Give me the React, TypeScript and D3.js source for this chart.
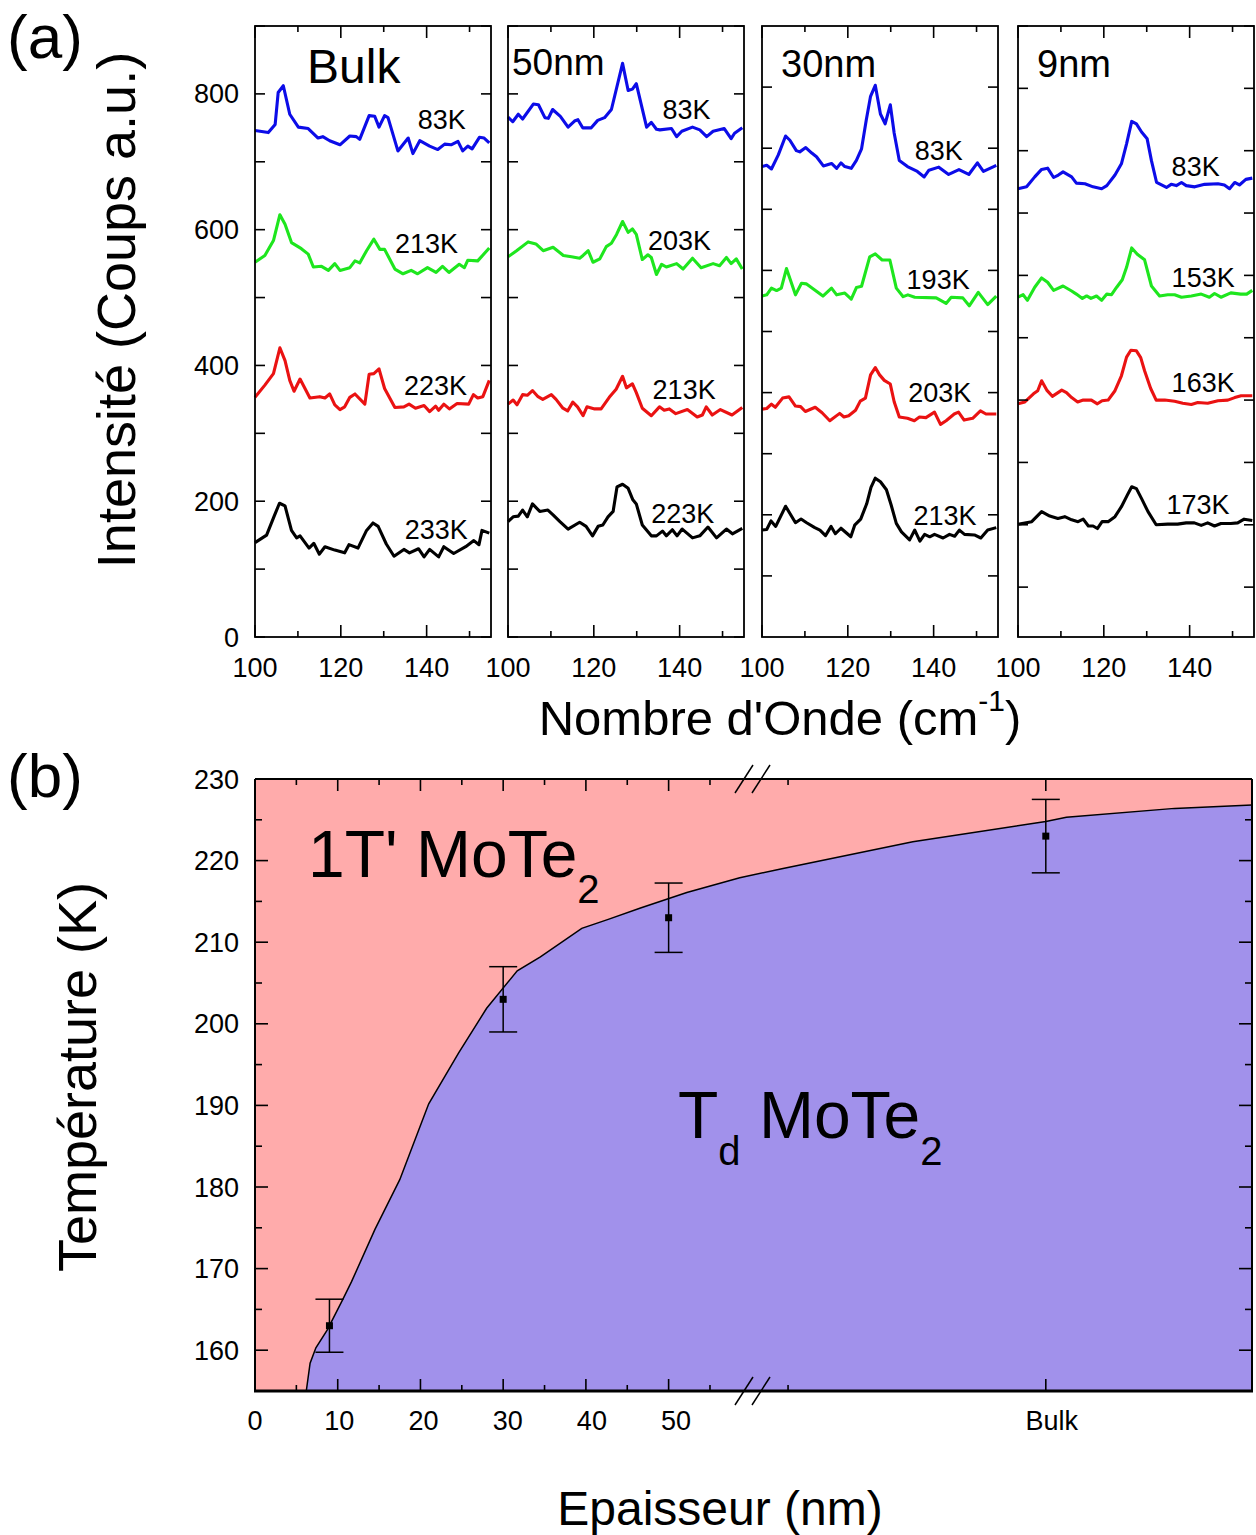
import React from 'react';
import * as d3 from 'd3';

const FONT = "'Liberation Sans', Arial, Helvetica, sans-serif";

type Pt = [number, number];

// ---------- Panel (a) spectra: [wavenumber cm-1, intensity] ----------
const bulk83K: Pt[] = [[100,746],[103.1,743],[104.7,755],[105.4,802],[106.6,812],[108.1,770],[110.1,751],[112.4,749],[114.7,735],[115.8,737],[117.4,731],[119.8,725],[122.1,738],[123.6,737],[124.4,733],[126.6,768],[127.9,767],[128.9,751],[130.2,768],[131.0,765],[133.3,716],[135.7,735],[136.8,712],[138.4,731],[140.7,723],[142.6,718],[144.2,726],[145.7,725],[147.3,730],[148.4,716],[149.6,723],[150.6,719],[152.3,736],[153.4,735],[154.6,728]];
const bulk213K: Pt[] = [[100,552],[102.3,562],[104.3,584],[105.8,622],[107,608],[108.5,581],[110.8,572],[112.4,564],[113.6,545],[115.5,546],[117.1,540],[118.6,550],[119.8,540],[122.1,544],[123.3,554],[124.4,551],[126,569],[127.7,586],[129.1,571],[130.2,571],[132.6,542],[134.5,535],[136.4,540],[137.9,535],[140.2,544],[142.2,537],[143.7,546],[145.2,537],[147.6,549],[148.8,544],[149.6,555],[151.9,554],[154.6,573]];
const bulk223K: Pt[] = [[100,353],[102.3,371],[104.3,388],[105.8,426],[107,407],[108.1,378],[109.1,362],[110.5,380],[112.8,352],[115.1,354],[116.3,352],[117.4,358],[118.6,342],[119.8,335],[120.9,339],[122.1,353],[123.3,358],[125.6,343],[126.6,387],[127.7,388],[128.9,395],[130.2,366],[132.6,338],[134.7,339],[135.9,343],[137.4,337],[139.4,341],[140.7,332],[142.1,340],[142.8,334],[144.0,343],[145.3,336],[147.1,344],[149.8,343],[150.9,357],[151.9,352],[153.1,354],[154.6,378]];
const bulk233K: Pt[] = [[100,139],[102.7,150],[104.4,177],[105.7,197],[107,193],[108.5,157],[109.7,146],[110.5,149],[112.6,131],[113.7,138],[115,122],[116.3,133],[118.6,128],[120.9,124],[121.9,136],[124,131],[126,157],[127.5,168],[128.7,163],[130.6,137],[132.4,119],[134.7,129],[136,124],[138.1,130],[139.4,118],[140.7,129],[142.8,118],[144,133],[146.3,123],[149.1,133],[151,142],[152.2,136],[152.9,157],[154.6,153]];

const nm50_83K: Pt[] = [[100,766],[101.1,759],[102.4,770],[103.4,763],[105.9,785],[107.1,784],[108.6,765],[109.4,764],[110.4,777],[112.2,767],[114,751],[115.5,760],[116.3,762],[117.4,750],[119.4,750],[120.9,761],[122.5,765],[124.1,777],[126.7,845],[128,805],[129,807],[129.9,815],[132.3,751],[133.4,758],[134.6,748],[135.4,747],[138.1,749],[139.3,737],[140.5,745],[143,751],[144.7,747],[146.3,737],[147.8,745],[150.4,749],[152,734],[152.8,742],[154.6,750]];
const nm50_203K: Pt[] = [[100,560],[102,569],[104.7,582],[106.5,579],[108.2,569],[110.5,574],[112.9,562],[114.8,560],[116.7,558],[117.5,562],[118.7,569],[119.8,552],[121.4,557],[122.9,575],[124.1,580],[125.3,593],[126.7,612],[128,596],[129,601],[129.9,593],[131.3,556],[132.6,563],[133.4,559],[134.6,534],[135.8,549],[136.9,545],[139.3,550],[140.8,542],[143,558],[145,544],[147.8,550],[149.3,547],[150.9,559],[152,550],[153.2,557],[154.6,542]];
const nm50_213K: Pt[] = [[100,343],[101.2,349],[102.1,342],[103.4,357],[104.5,356],[105.7,363],[107,354],[108.1,350],[110.1,357],[111.2,350],[112.8,337],[113.9,333],[115.1,346],[116.2,339],[117.5,326],[118.4,339],[120.2,336],[121.7,336],[123.6,353],[125.2,365],[126.7,384],[127.6,367],[129,373],[129.9,360],[131.3,337],[133.4,326],[135.3,339],[136.4,334],[137.6,336],[139.1,329],[141.8,335],[144.1,324],[145.3,327],[146.2,339],[147.6,327],[149.5,335],[152.2,327],[154.6,338]];
const nm50_223K: Pt[] = [[100,170],[101.2,177],[102.4,178],[103.4,187],[104.5,177],[105.7,196],[107.4,185],[109.3,187],[110.5,180],[112.1,170],[114,159],[116.7,169],[118.2,163],[119.7,149],[121,163],[122.1,165],[123.3,177],[124.5,185],[125.4,221],[126.7,225],[128,219],[129.1,202],[129.9,196],[131.3,165],[133.4,149],[134.6,149],[136,156],[136.9,149],[138.3,158],[139.4,149],[140.6,159],[143,146],[144.7,149],[146.6,162],[148.6,146],[150.9,159],[152.3,152],[154.6,160]];

const nm30_83K: Pt[] = [[100,770],[101.1,772],[102.2,766],[103.8,789],[105.5,820],[106.5,813],[108,796],[108.8,794],[110.2,801],[111.6,792],[112.7,786],[114.3,771],[116.2,775],[117.4,767],[118.4,776],[119.3,770],[120.8,767],[122,780],[123.2,799],[124.3,846],[125.3,885],[126.4,903],[127.6,856],[128.7,840],[129.9,871],[130.8,825],[132,780],[133.9,770],[136.2,762],[137.8,753],[138.9,764],[141.2,769],[143.5,757],[145.9,765],[148.2,757],[150.2,776],[151.6,762],[154,770],[154.6,772]];
const nm30_193K: Pt[] = [[100,558],[101.1,560],[102.2,571],[103.4,567],[104.5,571],[105.7,603],[107.8,560],[109.2,579],[110.3,578],[114.2,558],[116.2,571],[117.4,560],[119.3,563],[120.8,553],[122,572],[123.2,574],[125.1,622],[126.4,627],[128,617],[129.8,617],[131.3,571],[132.9,557],[134,560],[135.6,556],[140.6,555],[142.9,546],[144.1,556],[146.8,555],[148.3,542],[150.4,564],[152.6,544],[154.6,558]];
const nm30_203K: Pt[] = [[100,373],[101.1,374],[102.2,381],[103.1,376],[104.8,391],[106.3,393],[107.8,378],[109,377],[110.1,369],[112.4,376],[114,367],[115.8,354],[118.1,366],[119.1,360],[120.2,362],[121.8,371],[122.9,386],[124.1,391],[125.3,429],[126.4,441],[127.4,429],[128.5,420],[129.9,414],[130.8,385],[132,360],[133.9,358],[135.5,354],[136.7,360],[138.2,359],[140.2,368],[141.6,348],[142.9,354],[144.8,365],[145.8,368],[147.1,355],[149.1,358],[150.9,370],[152.2,365],[154.6,365]];
const nm30_213K: Pt[] = [[100,175],[101.1,176],[102.1,190],[103.2,181],[105.5,214],[107.8,187],[109.1,193],[110.4,187],[112.3,179],[113.5,175],[114.8,166],[116.1,181],[117.1,169],[118.4,178],[120.7,164],[121.6,183],[123,193],[124.4,218],[125.4,245],[126.4,260],[127.6,254],[129,241],[130.1,216],[131.3,186],[132.5,172],[134.4,159],[135.6,175],[136.8,157],[137.9,168],[139.1,164],[140.2,168],[142.2,162],[143.7,168],[144.9,165],[146,175],[147.2,168],[149.5,167],[151,162],[152.6,175],[154.6,179]];

const nm9_83K: Pt[] = [[100,639],[102,642],[103.9,658],[105.5,670],[106.9,672],[108.3,657],[109.4,661],[110.5,666],[112.5,658],[113.6,648],[115.6,647],[117.5,642],[119.5,639],[120.7,644],[122.6,661],[124.1,679],[125.3,711],[126.5,747],[127.6,743],[128.8,730],[130.1,719],[131.1,684],[132.3,649],[134.6,641],[135.7,646],[136.9,644],[138.1,649],[139.2,644],[141.2,642],[143.5,646],[146.6,647],[148.1,645],[149.3,639],[150.5,649],[151.6,645],[153.1,654],[154.6,656]];
const nm9_153K: Pt[] = [[100,465],[101.2,469],[102.2,460],[103.9,481],[105.5,496],[106.9,489],[108.3,476],[110.5,483],[112.5,475],[113.6,470],[115,463],[116,467],[117,463],[118.3,467],[119.5,460],[120.7,470],[121.8,469],[123,481],[124.3,493],[125.3,513],[126.5,544],[127.8,534],[129.5,525],[131.1,483],[133,467],[134.9,469],[136.5,469],[138.1,465],[140.4,467],[142.7,470],[144.6,465],[145.8,471],[147.3,465],[149.6,472],[151.9,470],[153.3,470],[154.6,476]];
const nm9_163K: Pt[] = [[100,294],[101.6,297],[103.6,310],[104.6,315],[105.5,331],[106.7,316],[108,306],[110.2,316],[111.3,312],[112.5,304],[113.9,297],[115.2,300],[117.1,300],[118.5,294],[119.6,299],[121,300],[122.6,315],[124.1,339],[125.3,369],[126.3,380],[127.6,379],[128.6,368],[129.5,347],[130.9,319],[132.2,300],[134.2,300],[136.5,298],[138.4,295],[140.4,293],[141.9,296],[144.2,295],[146.6,299],[148.9,300],[150.5,304],[152,307],[154.6,307]];
const nm9_173K: Pt[] = [[100,101],[101.6,103],[103.2,105],[105.5,121],[107.4,114],[109.3,110],[110.9,113],[112.5,108],[114,105],[115.2,109],[116.4,98],[117.5,98],[118.5,94],[119.6,105],[121,105],[122.6,113],[124.1,129],[125.5,148],[126.5,161],[127.6,158],[128.8,142],[130.3,121],[132.2,100],[134.9,101],[137.2,101],[139.2,103],[141.1,103],[142.7,99],[144.2,103],[145.8,98],[147.3,102],[149.6,102],[151.2,103],[152.7,109],[154.6,107]];

// temperature labels and their anchor (wavenumber, intensity)
const bulkLabels = ['83K', '213K', '223K', '233K'];
const bulkLabelAt: Pt[] = [[137.9,748],[132.6,566],[134.7,357],[134.9,145]];
const nm50Labels = ['83K', '203K', '213K', '223K'];
const nm50LabelAt: Pt[] = [[136,763],[132.6,570],[133.7,350],[133.4,168]];
const nm30Labels = ['83K', '193K', '203K', '213K'];
const nm30LabelAt: Pt[] = [[135.6,781],[133.7,570],[134.1,384],[135.3,183]];
const nm9Labels = ['83K', '153K', '163K', '173K'];
const nm9LabelAt: Pt[] = [[135.8,660],[135.8,482],[135.8,313],[134.6,117]];

const panelTitles = ['Bulk', '50nm', '30nm', '9nm'];
const panelYDomains: Pt[] = [[0, 900], [0, 900], [0, 1000], [-80, 900]];
const panelYTicks = [d3.range(0, 901, 100), d3.range(0, 901, 100), d3.range(100, 1000, 100), d3.range(0, 901, 100)];
const intensityTickLabels = [0, 200, 400, 600, 800];
const waveTickMajor = [100, 120, 140];
const waveTickMinor = [110, 130, 150];
const seriesColors = ['#0c0ce8', '#1ee61e', '#ea1212', '#000000'];

// ---------- Panel (b) data ----------
const boundaryThickness = [6.2, 6.66, 7.36, 8.74, 10.6, 11.67, 14.5, 17.5, 21.0, 24.6, 28.0, 31.7, 34.5, 39.5, 42.7, 46.6, 52.2, 58.6, 74.4, 87.1, 100, 102.0, 112.5, 120];
const boundaryTemp = [155, 158.4, 160.3, 162.5, 166.2, 168.4, 174.8, 180.9, 190.2, 196.4, 201.9, 206.5, 208.2, 211.7, 212.8, 214.2, 216.1, 217.9, 219.0, 222.3, 224.8, 225.3, 226.4, 226.8];
const pointThickness = [9, 30, 50, 100]; // 100 stands for "Bulk"
const pointTemp = [163, 203, 213, 223];
const pointErr = [3.25, 4, 4.25, 4.5];
const xMajorTicks = [0, 10, 20, 30, 40, 50, 100];
const xMajorLabels = ['0', '10', '20', '30', '40', '50', 'Bulk'];
const xMinorTicks = [5, 15, 25, 35, 45, 55, 75];
const tempMajorTicks = d3.range(160, 231, 10);
const tempMinorTicks = d3.range(165, 230, 10);

export default function App() {
  const W = 1256, H = 1535;
  // panel (a) layout
  const aTop = 26, aBottom = 637;
  const lefts = [255, 508, 762, 1018];
  const pw = 236;
  const panelSeries = [
    [bulk83K, bulk213K, bulk223K, bulk233K],
    [nm50_83K, nm50_203K, nm50_213K, nm50_223K],
    [nm30_83K, nm30_193K, nm30_203K, nm30_213K],
    [nm9_83K, nm9_153K, nm9_163K, nm9_173K],
  ];
  const panelLabels = [bulkLabels, nm50Labels, nm30Labels, nm9Labels];
  const panelLabelAt = [bulkLabelAt, nm50LabelAt, nm30LabelAt, nm9LabelAt];
  const titleSizes = [48, 37, 38, 38];
  const titleOffsets: Pt[] = [[52, 83], [4, 75], [19, 77], [19, 77]];

  // panel (b) layout
  const bLeft = 255, bRight = 1252, bTop = 779, bBottom = 1391;
  const breakPx = 753;
  const x = d3.scaleLinear().domain([0, 60.2, 71.6, 120]).range([bLeft, breakPx, breakPx, bRight]);
  const y = d3.scaleLinear().domain([155, 230]).range([bBottom, bTop]);
  const boundary = boundaryThickness.map((t, i) => [t, boundaryTemp[i]] as Pt);
  const area = d3.area<Pt>().x(d => x(d[0])).y0(y(155)).y1(d => y(d[1]));
  const line = d3.line<Pt>().x(d => x(d[0])).y(d => y(d[1]));

  return (
    <svg width={W} height={H} style={{ position: 'absolute', left: 0, top: 0, background: '#fff' }} fontFamily={FONT}>
      {/* ---------------- Panel (a) ---------------- */}
      <text x={7} y={58} fontSize={62}>(a)</text>
      {lefts.map((left, pi) => {
        const xs = d3.scaleLinear().domain([100, 155]).range([left, left + pw]);
        const ys = d3.scaleLinear().domain(panelYDomains[pi]).range([aBottom, aTop]);
        const ln = d3.line<Pt>().x(d => xs(d[0])).y(d => ys(d[1]));
        return (
          <g key={pi}>
            {panelSeries[pi].map((s, si) => (
              <path key={si} d={ln(s) || ''} fill="none" stroke={seriesColors[si]} strokeWidth={3.1} strokeLinejoin="round" />
            ))}
            {panelLabels[pi].map((lab, li) => (
              <text key={li} x={xs(panelLabelAt[pi][li][0])} y={ys(panelLabelAt[pi][li][1])} fontSize={27}>{lab}</text>
            ))}
            <text x={left + titleOffsets[pi][0]} y={titleOffsets[pi][1]} fontSize={titleSizes[pi]}>{panelTitles[pi]}</text>
            {/* y ticks both sides */}
            {panelYTicks[pi].map(v => (
              <g key={'y' + v}>
                <line x1={left} x2={left + 10} y1={ys(v)} y2={ys(v)} stroke="#000" strokeWidth={1.6} />
                <line x1={left + pw} x2={left + pw - 10} y1={ys(v)} y2={ys(v)} stroke="#000" strokeWidth={1.6} />
              </g>
            ))}
            {/* x ticks top & bottom */}
            {waveTickMajor.concat(waveTickMinor).map(v => {
              const len = waveTickMajor.includes(v) ? 12 : 6;
              return (
                <g key={'x' + v}>
                  <line x1={xs(v)} x2={xs(v)} y1={aBottom} y2={aBottom - len} stroke="#000" strokeWidth={1.6} />
                  <line x1={xs(v)} x2={xs(v)} y1={aTop} y2={aTop + len} stroke="#000" strokeWidth={1.6} />
                </g>
              );
            })}
            {waveTickMajor.map(v => (
              <text key={'xl' + v} x={xs(v)} y={677} fontSize={27} textAnchor="middle">{v}</text>
            ))}
            {pi === 0 && intensityTickLabels.map(v => (
              <text key={'yl' + v} x={239} y={ys(v) + 9.5} fontSize={27} textAnchor="end">{v}</text>
            ))}
            <rect x={left} y={aTop} width={pw} height={aBottom - aTop} fill="none" stroke="#000" strokeWidth={1.8} />
          </g>
        );
      })}
      <text transform="translate(135,310) rotate(-90)" fontSize={54} textAnchor="middle">Intensité (Coups a.u.)</text>
      <text x={780} y={735} fontSize={49} textAnchor="middle">
        Nombre d'Onde (cm<tspan fontSize={30} dy={-24}>-1</tspan><tspan dy={24}>)</tspan>
      </text>

      {/* ---------------- Panel (b) ---------------- */}
      <text x={7} y={797} fontSize={62}>(b)</text>
      <rect x={bLeft} y={bTop} width={bRight - bLeft} height={bBottom - bTop} fill="#ffabab" />
      <path d={area(boundary) || ''} fill="#a191eb" />
      <path d={line(boundary) || ''} fill="none" stroke="#000" strokeWidth={1.5} />

      {/* error bars */}
      {pointThickness.map((t, i) => {
        const cx = x(t);
        const yt = y(pointTemp[i] + pointErr[i]);
        const yb = y(pointTemp[i] - pointErr[i]);
        return (
          <g key={'e' + i} stroke="#000" strokeWidth={1.5}>
            <line x1={cx} x2={cx} y1={yt} y2={yb} />
            <line x1={cx - 14} x2={cx + 14} y1={yt} y2={yt} />
            <line x1={cx - 14} x2={cx + 14} y1={yb} y2={yb} />
            <rect x={cx - 3.5} y={y(pointTemp[i]) - 3.5} width={7} height={7} fill="#000" stroke="none" />
          </g>
        );
      })}

      {/* axes frame */}
      <line x1={bLeft} x2={bRight} y1={bTop} y2={bTop} stroke="#000" strokeWidth={2} />
      <line x1={bLeft} x2={bLeft} y1={bTop} y2={bBottom} stroke="#000" strokeWidth={2} />
      <line x1={bRight} x2={bRight} y1={bTop} y2={bBottom} stroke="#000" strokeWidth={2} />
      <line x1={bLeft - 1} x2={bRight + 1} y1={bBottom} y2={bBottom} stroke="#000" strokeWidth={3.2} />

      {/* x ticks */}
      {xMajorTicks.map(v => (
        <g key={'bx' + v} stroke="#000" strokeWidth={1.6}>
          <line x1={x(v)} x2={x(v)} y1={bBottom} y2={bBottom - 12} />
          <line x1={x(v)} x2={x(v)} y1={bTop} y2={bTop + 12} />
        </g>
      ))}
      {xMinorTicks.map(v => (
        <g key={'bxm' + v} stroke="#000" strokeWidth={1.6}>
          <line x1={x(v)} x2={x(v)} y1={bBottom} y2={bBottom - 6} />
          <line x1={x(v)} x2={x(v)} y1={bTop} y2={bTop + 6} />
        </g>
      ))}
      {xMajorTicks.map((v, i) => (
        <text key={'bxl' + v} x={x(v) + (i < 6 ? i * 1.5 : 6)} y={1430} fontSize={27} textAnchor="middle">{xMajorLabels[i]}</text>
      ))}
      {/* y ticks */}
      {tempMajorTicks.map(v => (
        <g key={'by' + v} stroke="#000" strokeWidth={1.6}>
          <line x1={bLeft} x2={bLeft + 13} y1={y(v)} y2={y(v)} />
          <line x1={bRight} x2={bRight - 13} y1={y(v)} y2={y(v)} />
        </g>
      ))}
      {tempMinorTicks.map(v => (
        <g key={'bym' + v} stroke="#000" strokeWidth={1.6}>
          <line x1={bLeft} x2={bLeft + 7} y1={y(v)} y2={y(v)} />
          <line x1={bRight} x2={bRight - 7} y1={y(v)} y2={y(v)} />
        </g>
      ))}
      {tempMajorTicks.map(v => (
        <text key={'byl' + v} x={239} y={y(v) + 9.5} fontSize={27} textAnchor="end">{v}</text>
      ))}

      {/* axis break marks */}
      {[-9, 8].map(o => (
        <g key={'br' + o} stroke="#000" strokeWidth={1.5}>
          <line x1={breakPx + o - 9} y1={bTop + 14} x2={breakPx + o + 9} y2={bTop - 14} />
          <line x1={breakPx + o - 9} y1={bBottom + 14} x2={breakPx + o + 9} y2={bBottom - 14} />
        </g>
      ))}

      {/* phase labels */}
      <text x={308} y={877} fontSize={66}>1T' MoTe<tspan fontSize={40} dy={26}>2</tspan></text>
      <text x={678} y={1138} fontSize={66}>T<tspan fontSize={40} dy={27}>d</tspan><tspan dy={-27}> MoTe</tspan><tspan fontSize={40} dy={27}>2</tspan></text>

      <text transform="translate(96,1077) rotate(-90)" fontSize={54} textAnchor="middle">Température (K)</text>
      <text x={720} y={1525} fontSize={48} textAnchor="middle">Epaisseur (nm)</text>
    </svg>
  );
}
